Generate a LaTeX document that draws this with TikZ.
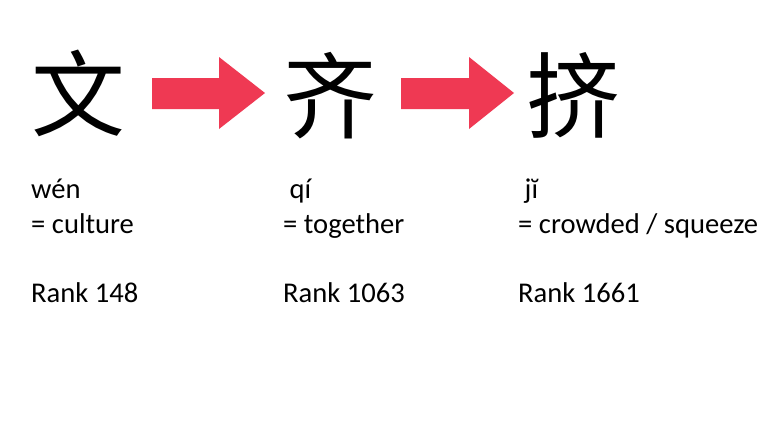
\documentclass[tikz,border=0pt]{standalone}
\usepackage{fontspec}
\setmainfont{Carlito}
\newfontfamily\cjk{Noto Sans CJK SC}
\definecolor{arrowred}{RGB}{239,57,83}
\tikzset{
  hanzi/.style={inner sep=0pt, anchor=base, font=\cjk\fontsize{88}{88}\selectfont},
  gloss/.style={inner sep=0pt, anchor=base west, font=\fontsize{26.8}{32}\selectfont},
  blockarrow/.style={fill=arrowred, draw=none}
}
\begin{document}
\begin{tikzpicture}[x=0.9375pt, y=-0.9375pt]
\useasboundingbox (0,0) rectangle (768,432);
\fill[white] (0,0) rectangle (768,432);
% characters
\node[hanzi] (wen) at (78,129) {文};
\node[hanzi] (qi) at (330,131) {齐};
\node[hanzi] (ji) at (573,131) {挤};
% arrows
\fill[blockarrow] (152,78) -- (219,78) -- (219,57) -- (265,93) -- (219,129) -- (219,109) -- (152,109) -- cycle;
\fill[blockarrow] (401,78) -- (469,78) -- (469,57) -- (514,93) -- (469,129) -- (469,109) -- (401,109) -- cycle;
% pinyin
\node[gloss] (p1) at (31,198) {wén};
\node[gloss] (p2) at (283,198) {\ qí};
\node[gloss] (p3) at (518,198) {\ jĭ};
% meanings
\node[gloss] (m1) at (31,233) {= culture};
\node[gloss] (m2) at (283,233) {= together};
\node[gloss] (m3) at (518,233) {= crowded / squeeze};
% ranks
\node[gloss] (r1) at (31,302) {Rank 148};
\node[gloss] (r2) at (283,302) {Rank 1063};
\node[gloss] (r3) at (518,302) {Rank 1661};
\end{tikzpicture}
\end{document}
